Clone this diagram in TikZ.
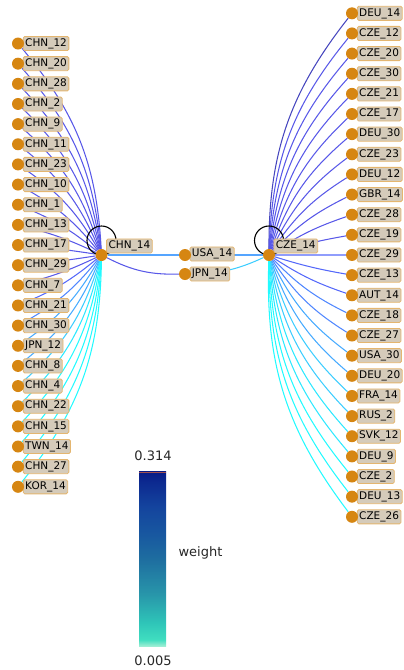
\documentclass[tikz,border=0pt]{standalone}
\usepackage{fontspec}
\setmainfont{DejaVu Sans}
\pgfdeclarelayer{bg}
\pgfsetlayers{bg,main}
\definecolor{dotc}{RGB}{214,134,18}
\definecolor{boxfill}{RGB}{213,203,186}
\definecolor{boxdraw}{RGB}{228,182,112}
\definecolor{ea}{RGB}{70,70,190}
\definecolor{eb}{RGB}{88,88,232}
\definecolor{ec}{RGB}{84,104,250}
\definecolor{ed}{RGB}{80,135,255}
\definecolor{ee}{RGB}{70,170,255}
\definecolor{ef}{RGB}{60,205,255}
\definecolor{eg}{RGB}{45,232,255}
\definecolor{eh}{RGB}{35,250,255}
\definecolor{usae}{RGB}{85,165,255}
\definecolor{cb0}{RGB}{168,240,214}
\definecolor{cb1}{RGB}{64,222,192}
\definecolor{cb2}{RGB}{46,196,184}
\definecolor{cb3}{RGB}{40,150,170}
\definecolor{cb4}{RGB}{30,110,160}
\definecolor{cb5}{RGB}{24,88,160}
\definecolor{cb6}{RGB}{20,68,158}
\definecolor{cb7}{RGB}{12,42,144}
\definecolor{cb8}{RGB}{8,26,134}
\pgfdeclareverticalshading{cbar}{100bp}{color(0bp)=(cb0); color(25bp)=(cb0); color(27bp)=(cb1); color(32bp)=(cb2); color(40bp)=(cb3); color(50bp)=(cb4); color(57bp)=(cb5); color(65bp)=(cb6); color(72bp)=(cb7); color(75bp)=(cb8); color(100bp)=(cb8)}
\tikzset{
  dot/.style={circle, fill=dotc, minimum size=12pt, inner sep=0pt},
  lab/.style={draw=boxdraw, fill=boxfill, rounded corners=1.5pt, line width=0.8pt,
    inner xsep=2pt, inner ysep=2pt, text height=7.8pt, text depth=2.3pt,
    font=\fontsize{10.5}{12}\selectfont, text=black, anchor=west},
  edge/.style={line width=1.05pt},
  loopline/.style={draw=black, line width=1.1pt},
  cbtext/.style={font=\fontsize{13}{15}\selectfont, text=black!85},
}
\begin{document}
\begin{tikzpicture}[x=1pt,y=-1pt]
\useasboundingbox (0,0) rectangle (404,670);
% hubs
\node[lab] (LCHN14) at (106.2,246) {CHN\_14};
\node[dot] (CHN14) at (101.5,255) {};
\node[lab] (LCZE14) at (273.5,246) {CZE\_14};
\node[dot] (CZE14) at (269,255) {};
\node[lab] (LUSA14) at (189.5,254) {USA\_14};
\node[dot] (USA14) at (185,255) {};
\node[lab] (LJPN14) at (189.5,274) {JPN\_14};
\node[dot] (JPN14) at (185,274) {};
% left leaves
\foreach \a/\n/\c [count=\i from 0] in {CHN/12/eb, CHN/20/eb, CHN/28/eb, CHN/2/eb, CHN/9/eb, CHN/11/eb, CHN/23/eb, CHN/10/eb, CHN/1/eb, CHN/13/eb, CHN/17/eb, CHN/29/eb, CHN/7/eb, CHN/21/ec, CHN/30/ed, JPN/12/ee, CHN/8/ee, CHN/4/ef, CHN/22/eg, CHN/15/eh, TWN/14/eh, CHN/27/eh, KOR/14/eh}{
  \pgfmathsetmacro\yy{43.5+\i*20.15}
  \pgfmathsetmacro\bb{0.27*atan((\yy-255)/83.5)}
  \node[lab] (L\a\n) at (22.8,\yy) {\a\_\n};
  \node[dot] (\a\n) at (18,\yy) {};
  \begin{pgfonlayer}{bg}
    \draw[edge,\c] (CHN14) to[bend left=\bb] (\a\n);
  \end{pgfonlayer}
}
% right leaves
\foreach \a/\n/\c [count=\i from 0] in {DEU/14/ea, CZE/12/eb, CZE/20/eb, CZE/30/eb, CZE/21/eb, CZE/17/eb, DEU/30/eb, CZE/23/eb, DEU/12/eb, GBR/14/eb, CZE/28/eb, CZE/19/eb, CZE/29/ec, CZE/13/ec, AUT/14/ec, CZE/18/ed, CZE/27/ed, USA/30/ee, DEU/20/ee, FRA/14/ef, RUS/2/ef, SVK/12/eg, DEU/9/eg, CZE/2/eh, DEU/13/eh, CZE/26/eh}{
  \pgfmathsetmacro\yy{13.3+\i*20.14}
  \pgfmathsetmacro\bb{-0.27*atan((\yy-255)/83)}
  \node[lab] (L\a\n) at (356.8,\yy) {\a\_\n};
  \node[dot] (\a\n) at (352,\yy) {};
  \begin{pgfonlayer}{bg}
    \draw[edge,\c] (CZE14) to[bend left=\bb] (\a\n);
  \end{pgfonlayer}
}
\begin{pgfonlayer}{bg}
  \draw[edge,usae,line width=1.3pt] (CHN14) -- (USA14);
  \draw[edge,usae,line width=1.3pt] (USA14) -- (CZE14);
  \draw[edge,eb] (CHN14) to[bend right=14] (JPN14);
  \draw[edge,ef] (JPN14) to[bend right=12] (CZE14);
  \draw[loopline] ([yshift=14.5pt]CHN14.center) circle[radius=14.5pt];
  \draw[loopline] ([yshift=14.5pt]CZE14.center) circle[radius=14.5pt];
\end{pgfonlayer}
% colour bar
\shade[shading=cbar] (139,471.7) rectangle (166,646.7);
\draw[line width=1pt, draw={rgb,255:red,160;green,80;blue,80}] (139,472) -- (166,472);
\node[cbtext] (cbmax) at (153,456) {0.314};
\node[cbtext] (cbname) at (200.5,553) {weight};
\node[cbtext] (cbmin) at (153,661) {0.005};
\end{tikzpicture}
\end{document}
